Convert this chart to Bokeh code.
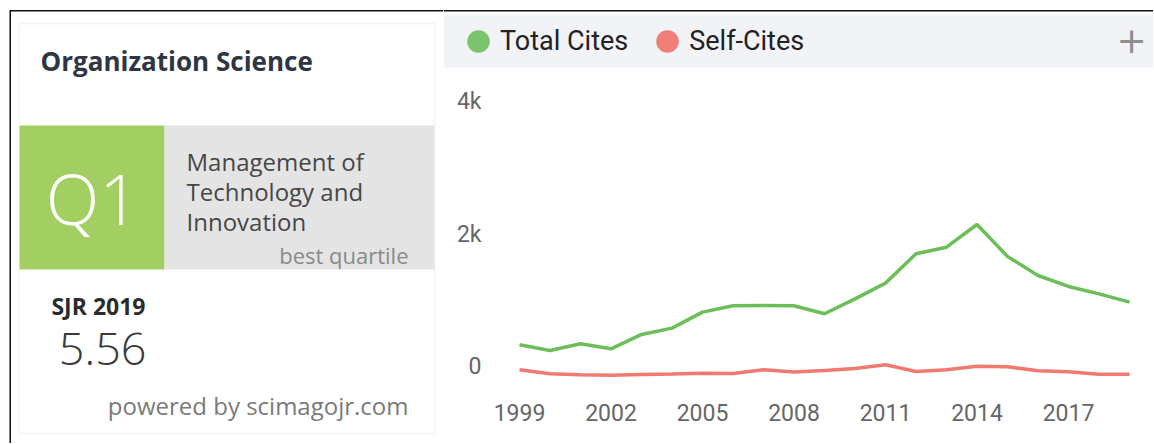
from bokeh.plotting import figure
from bokeh.layouts import row, column
from bokeh.models import (Range1d, Label, FixedTicker, Legend, LegendItem, BoxAnnotation,
                          LinearAxis)
from bokeh.embed import file_html
from bokeh.resources import INLINE

# ---------------- data ----------------
years = list(range(1999, 2020))
total_cites = [461, 376, 476, 401, 617, 712, 953, 1048, 1053, 1048, 928,
               1153, 1389, 1830, 1930, 2271, 1790, 1504, 1339, 1228, 1103]
self_cites = [86, 26, 11, 5, 15, 23, 35, 30, 86, 51, 75,
              105, 161, 60, 86, 140, 131, 71, 56, 20, 20]
x_ticks = [1999, 2002, 2005, 2008, 2011, 2014, 2017]
y_ticks = [0, 2000, 4000]
y_tick_labels = {0: "0", 2000: "2k", 4000: "4k"}
series_names = ["Total Cites", "Self-Cites"]

sjr_years = list(range(2012, 2020))
sjr_values = [7.74, 7.63, 9.16, 7.20, 6.43, 5.56, 6.65, 5.56]

journal = "Organization Science"
quartile = "Q1"
category_lines = ["Management of", "Technology and", "Innovation"]
quartile_note = "best quartile"
sjr_label = "SJR 2019"
sjr_text = "5.56"
powered = "powered by scimagojr.com"

GREEN = "#6cbf58"
RED = "#f07a72"
CARD_FONT = "Open Sans"
CHART_FONT = "Roboto"

# ---------------- left card ----------------
left = figure(width=443, height=443, x_range=Range1d(0, 443), y_range=Range1d(443, 0),
              x_axis_type=None, y_axis_type=None, output_backend="svg",
              toolbar_location=None, min_border=0, outline_line_color=None)
left.grid.visible = False

# frame lines of the screenshot
left.add_layout(BoxAnnotation(left=10, right=443, top=9.5, bottom=11, fill_color="#111111",
                              fill_alpha=1, line_color=None))
left.add_layout(BoxAnnotation(left=9, right=10.5, top=9.5, bottom=443, fill_color="#111111",
                              fill_alpha=1, line_color=None))

left.add_layout(BoxAnnotation(left=19, right=434, top=23, bottom=433, fill_color="white",
                              fill_alpha=1, line_color="#e2e2e2", line_width=2))
left.add_layout(BoxAnnotation(left=19, right=164, top=125, bottom=269, fill_color="#a3cf62",
                              fill_alpha=1, line_color=None))
left.add_layout(BoxAnnotation(left=164, right=434, top=125, bottom=269, fill_color="#e4e4e4",
                              fill_alpha=1, line_color=None))

left.add_layout(Label(x=40, y=60, text=journal, text_font=CARD_FONT, text_font_style="bold",
                      text_font_size="26px", text_color="#2f3542", text_baseline="middle"))
left.add_layout(Label(x=92, y=197, text=quartile, text_font="Open Sans Light",
                      text_font_size="70px", text_color="white", text_align="center",
                      text_baseline="middle"))
for i, line_txt in enumerate(category_lines):
    left.add_layout(Label(x=186, y=161 + 30 * i, text=line_txt, text_font=CARD_FONT,
                          text_font_size="24px", text_color="#474747", text_baseline="middle"))
left.add_layout(Label(x=408, y=254, text=quartile_note, text_font=CARD_FONT,
                      text_font_size="22px", text_color="#8a8a8a", text_align="right",
                      text_baseline="middle"))
left.add_layout(Label(x=145, y=305, text=sjr_label, text_font=CARD_FONT, text_font_style="bold",
                      text_font_size="23px", text_color="#2b2b2b", text_align="right",
                      text_baseline="middle"))
left.add_layout(Label(x=146, y=348, text=sjr_text, text_font="Open Sans Light",
                      text_font_size="45px", text_color="#3a3a3a", text_align="right",
                      text_baseline="middle"))
left.add_layout(Label(x=408, y=405, text=powered, text_font=CARD_FONT,
                      text_font_size="24px", text_color="#7a7a7a", text_align="right",
                      text_baseline="middle"))

# sparkline on its own scales
left.extra_x_ranges = {"sx": Range1d(2007.389, 2019.844)}
left.extra_y_ranges = {"sy": Range1d(-7.522, 40.77)}
left.varea(x=sjr_years, y1=[0] * len(sjr_values), y2=sjr_values, x_range_name="sx",
           y_range_name="sy", fill_color="#e5b49f")
left.line(x=sjr_years, y=sjr_values, x_range_name="sx", y_range_name="sy",
          line_color="#e8733a", line_width=2.5)
left.scatter(x=sjr_years[-1:], y=sjr_values[-1:], x_range_name="sx", y_range_name="sy",
             size=14, fill_color="#ea6e35", line_color="white", line_width=1.5)

# ---------------- legend bar ----------------
bar = figure(width=710, height=68, x_range=Range1d(443, 1153), y_range=Range1d(68, 0),
             x_axis_type=None, y_axis_type=None, output_backend="svg",
             toolbar_location=None, min_border=0, outline_line_color=None,
             background_fill_color="white", border_fill_color="white")
bar.grid.visible = False
bar.add_layout(BoxAnnotation(top=14, bottom=68, fill_color="#f2f3f7", fill_alpha=1,
                             line_color=None))
bar.add_layout(BoxAnnotation(top=9.5, bottom=11, fill_color="#111111", fill_alpha=1,
                             line_color=None))
nan = float("nan")
r_tot = bar.scatter(x=[nan], y=[nan], marker="circle", fill_color="#7cc46c",
                    line_color="#7cc46c", line_width=5)
r_self = bar.scatter(x=[nan], y=[nan], marker="circle", fill_color="#f07f77",
                     line_color="#f07f77", line_width=5)
legend = Legend(items=[LegendItem(label=series_names[0], renderers=[r_tot]),
                       LegendItem(label=series_names[1], renderers=[r_self])],
                orientation="horizontal", location=(13, 5), glyph_width=44, glyph_height=44,
                label_standoff=0, spacing=17, padding=0, margin=0, border_line_color=None,
                background_fill_alpha=0, label_text_font=CHART_FONT,
                label_text_font_size="27px", label_text_color="#222222")
bar.add_layout(legend)
bar.add_layout(Label(x=1131, y=39, text="+", text_font="DejaVu Sans", text_font_size="36px",
                     text_color="#8e8e8e", text_align="center", text_baseline="middle"))

# ---------------- chart ----------------
chart = figure(width=710, height=375, x_range=Range1d(1996.508, 2019.787),
               y_range=Range1d(-226, 4437), y_axis_type=None, output_backend="svg",
               toolbar_location=None, min_border_left=0, min_border_right=0,
               min_border_top=12, min_border_bottom=53, outline_line_color=None)
chart.grid.visible = False
chart.line(years, total_cites, line_color=GREEN, line_width=3.5)
chart.line(years, self_cites, line_color=RED, line_width=3.5)

# tick labels sit slightly above their ticks, as in the source widget
chart.extra_y_ranges = {"ylab": Range1d(-354, 4309)}
yaxis = LinearAxis(y_range_name="ylab", ticker=FixedTicker(ticks=y_ticks),
                   major_label_overrides=y_tick_labels, fixed_location=1998.541)
chart.add_layout(yaxis, "left")

chart.xaxis.ticker = FixedTicker(ticks=x_ticks)
for ax in (chart.xaxis[0], yaxis):
    ax.axis_line_color = None
    ax.major_tick_line_color = None
    ax.minor_tick_line_color = None
    ax.major_label_text_font = CHART_FONT
    ax.major_label_text_font_size = "23px"
    ax.major_label_text_color = "#666666"
chart.xaxis.major_label_standoff = 7
yaxis.major_label_standoff = 18

layout = row(left, column(bar, chart, spacing=0), spacing=0)

open("out.html", "w").write(file_html(layout, INLINE))
